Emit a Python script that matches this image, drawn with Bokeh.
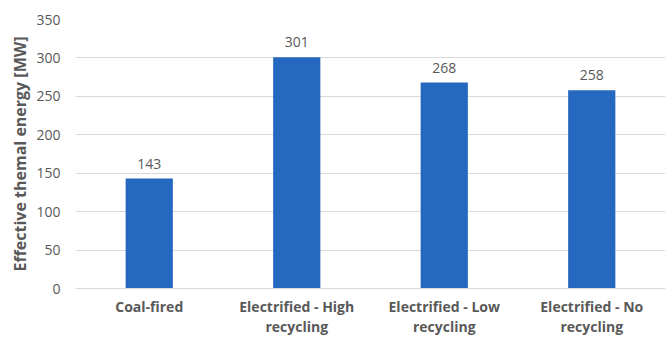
from bokeh.plotting import figure
from bokeh.models import ColumnDataSource, Range1d, FactorRange
from bokeh.core.properties import value
from bokeh.embed import file_html
from bokeh.resources import INLINE

# Effective thermal energy per plant configuration
categories = ["Coal-fired", "Electrified - High\nrecycling",
              "Electrified - Low\nrecycling", "Electrified - No\nrecycling"]
energy_mw = [143, 301, 268, 258]
y_ticks = [0, 50, 100, 150, 200, 250, 300, 350]

FONT = "Open Sans"
TEXT_GREY = "#595959"
BAR_BLUE = "#2468BF"
GRID_GREY = "#D9D9D9"

source = ColumnDataSource(data=dict(
    cat=categories,
    val=energy_mw,
    lbl=[str(v) for v in energy_mw],
))

p = figure(
    width=665, height=339,
    x_range=FactorRange(*categories, range_padding=0.0),
    y_range=Range1d(0, 350),
    output_backend="svg", toolbar_location=None,
    min_border_left=75, min_border_right=0,
    min_border_top=19, min_border_bottom=51,
)
p.x_range.factor_padding = 0.0

p.vbar(x="cat", top="val", width=0.32, source=source,
       fill_color=BAR_BLUE, line_color=None)

p.text(x="cat", y="val", text="lbl", source=source,
       text_font=value(FONT), text_font_size="14px",
       text_color=TEXT_GREY, text_align="center",
       text_baseline="middle", y_offset=-15)

p.outline_line_color = None
p.background_fill_color = "white"
p.border_fill_color = "white"

# grid
p.xgrid.grid_line_color = None
p.ygrid.grid_line_color = GRID_GREY
p.ygrid.grid_line_width = 1
p.yaxis.ticker = y_ticks

# y axis
p.yaxis.axis_line_color = None
p.yaxis.major_tick_line_color = None
p.yaxis.major_tick_out = 0
p.yaxis.major_tick_in = 0
p.yaxis.minor_tick_line_color = None
p.yaxis.major_label_text_font = FONT
p.yaxis.major_label_text_font_size = "14px"
p.yaxis.major_label_text_color = TEXT_GREY
p.yaxis.major_label_standoff = 15
p.yaxis.axis_label = "Effective themal energy [MW]"
p.yaxis.axis_label_text_font = FONT
p.yaxis.axis_label_text_font_size = "16px"
p.yaxis.axis_label_text_font_style = "bold"
p.yaxis.axis_label_text_color = TEXT_GREY
p.yaxis.axis_label_standoff = 2

# x axis
p.xaxis.axis_line_color = GRID_GREY
p.xaxis.major_tick_line_color = None
p.xaxis.major_tick_out = 0
p.xaxis.major_tick_in = 0
p.xaxis.minor_tick_line_color = None
p.xaxis.major_label_text_font = FONT
p.xaxis.major_label_text_font_size = "14px"
p.xaxis.major_label_text_font_style = "bold"
p.xaxis.major_label_text_color = TEXT_GREY
p.xaxis.major_label_text_line_height = 1.1
p.xaxis.major_label_standoff = 8

open("out.html", "w").write(file_html(p, INLINE))
